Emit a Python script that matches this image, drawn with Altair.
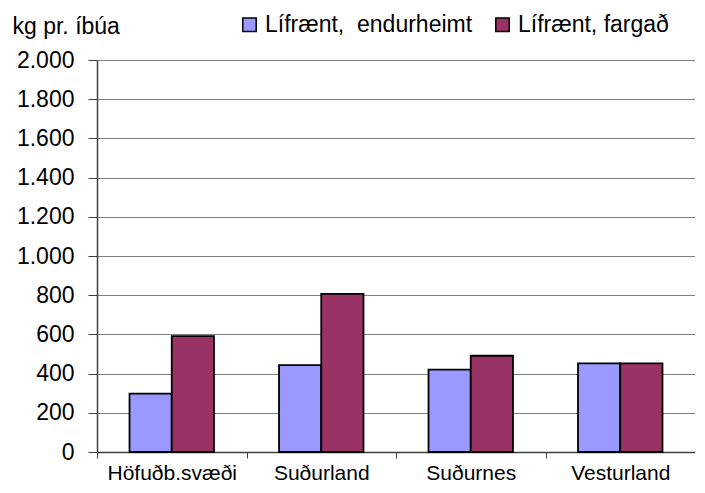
import altair as alt
import pandas as pd

regions = ["Höfuðb.svæði", "Suðurland", "Suðurnes", "Vesturland"]
series = ["Lífrænt,\u00a0 endurheimt", "Lífrænt, fargað"]
recovered = [298, 443, 420, 452]
disposed = [591, 807, 491, 452]

rows = []
for i, r in enumerate(regions):
    rows.append({"region": r, "series": series[0], "value": recovered[i]})
    rows.append({"region": r, "series": series[1], "value": disposed[i]})
df = pd.DataFrame(rows)

font = "Liberation Sans"

chart = alt.Chart(df).mark_bar(stroke="black", strokeWidth=1.8).encode(
    x=alt.X("region:N", sort=regions,
            scale=alt.Scale(paddingInner=0, paddingOuter=0),
            axis=alt.Axis(title=None, labelAngle=0, tickBand="extent",
                          labelFont=font, labelFontSize=21, labelColor="black",
                          labelBaseline="alphabetic", labelPadding=21,
                          tickSize=6, tickColor="#404040",
                          domainColor="#404040", domainWidth=1.5)),
    xOffset=alt.XOffset("series:N", sort=series,
                        scale=alt.Scale(paddingInner=0, paddingOuter=0.77)),
    y=alt.Y("value:Q", scale=alt.Scale(domain=[0, 2000], nice=False),
            axis=alt.Axis(values=list(range(0, 2001, 200)),
                          labelExpr="replace(format(datum.value, ','), ',', '.')",
                          labelFont=font, labelFontSize=23, labelColor="black",
                          labelPadding=14, tickSize=9, tickColor="#404040",
                          domainColor="#404040", domainWidth=1.5,
                          grid=True, gridColor="#808080", gridWidth=1,
                          title="kg pr. íbúa", titleAngle=0, titleAlign="left",
                          titleBaseline="alphabetic", titleX=-85, titleY=-27,
                          titleFont=font, titleFontSize=23, titleFontWeight="normal",
                          titleColor="black")),
    color=alt.Color("series:N", sort=series,
                    scale=alt.Scale(domain=series, range=["#9999FF", "#993366"]),
                    legend=alt.Legend(title=None, orient="none", legendX=141, legendY=-47,
                                      direction="horizontal", columns=2,
                                      symbolType="square", symbolSize=180,
                                      symbolStrokeColor="black", symbolStrokeWidth=1.5,
                                      labelFont=font, labelFontSize=23, labelColor="black",
                                      labelLimit=400, columnPadding=18, labelOffset=4)),
).properties(
    width=598, height=392,
    autosize=alt.AutoSizeParams(type="none"),
    padding={"left": 89, "top": 52, "right": 0, "bottom": 32},
).configure_view(stroke=None)

chart.save("out.html", embed_options={"renderer": "svg", "actions": False})
